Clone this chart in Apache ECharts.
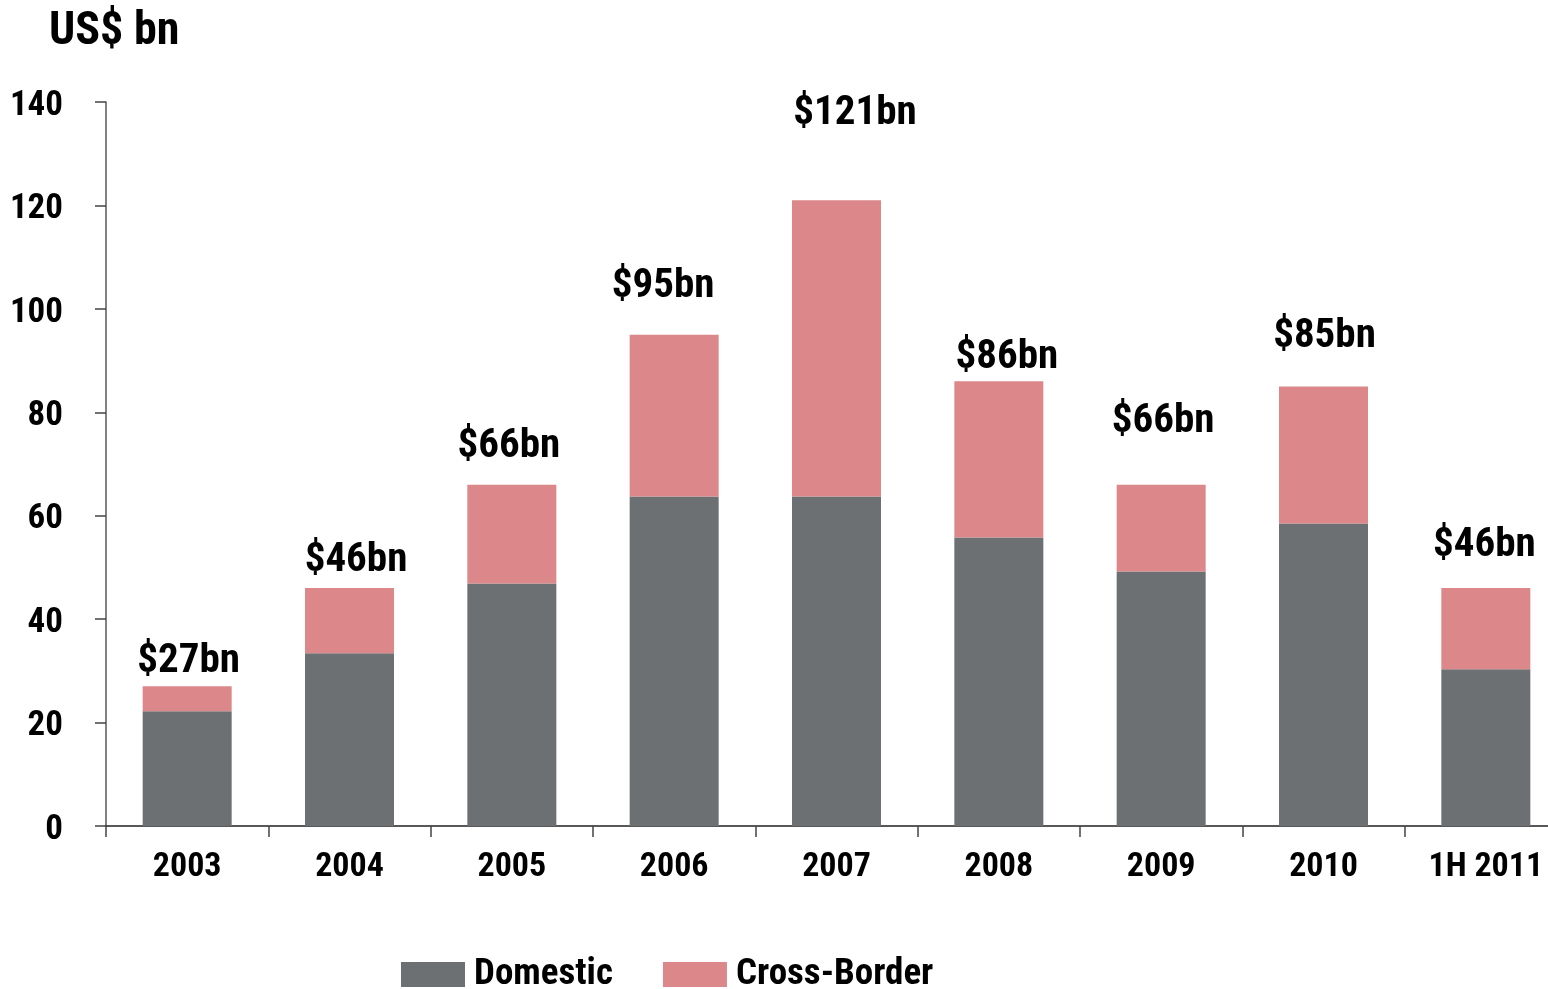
<!DOCTYPE html>
<html>
<head>
<meta charset="utf-8">
<title>US$ bn — Domestic vs Cross-Border</title>
<script src="https://cdn.jsdelivr.net/npm/echarts@6/dist/echarts.min.js"></script>
<style>
  html, body { margin: 0; padding: 0; background: #ffffff; }
  #chart { width: 1548px; height: 989px; }
</style>
</head>
<body>
<div id="chart"></div>
<script>
// Deal volume by year, US$ bn
const categories = ['2003', '2004', '2005', '2006', '2007', '2008', '2009', '2010', '1H 2011'];
const totals = [27, 46, 66, 95, 121, 86, 66, 85, 46];
const domestic = [22.2, 33.4, 46.9, 63.7, 63.7, 55.8, 49.2, 58.5, 30.3];
// Cross-border is the remainder of each stated total
const crossBorder = totals.map((t, i) => +(t - domestic[i]).toFixed(1));
const yTicks = [0, 20, 40, 60, 80, 100, 120, 140];

// Hand placement of each total label above its bar (pixels, [dx, dy])
const labelNudge = [[1.5, -4], [6.5, -7], [-3, -17], [-11, -27], [18.5, -66], [8, -3], [2, -42], [1, -29], [-1.5, -22]];

const FONT = '"Roboto Condensed", "Liberation Sans Narrow", Roboto, sans-serif';
const GRAY = '#6d7073';
const PINK = '#dc8789';

const chart = echarts.init(document.getElementById('chart'));
chart.setOption({
  backgroundColor: '#ffffff',
  animation: false,
  textStyle: { fontFamily: FONT, fontWeight: 'bold', color: '#000' },
  title: {
    text: 'US$ bn',
    left: 44,
    top: 4,
    textStyle: { fontFamily: FONT, fontWeight: 'bold', fontSize: 46, color: '#000' }
  },
  legend: {
    data: ['Domestic', 'Cross-Border'],
    left: 401,
    top: 956,
    padding: 0,
    icon: 'rect',
    itemWidth: 64,
    itemHeight: 25,
    itemGap: 50,
    textStyle: { fontFamily: FONT, fontWeight: 'bold', fontSize: 37, lineHeight: 25, color: '#000', padding: [0, 0, 0, 4] }
  },
  grid: { left: 106, right: -19, top: 102, bottom: 163, containLabel: false, outerBoundsMode: 'none' },
  xAxis: {
    type: 'category',
    data: categories,
    boundaryGap: true,
    axisLine: { show: true, lineStyle: { color: '#222', width: 1.5 } },
    axisTick: { show: true, interval: 0, length: 11, lineStyle: { color: '#444', width: 1.5 } },
    axisLabel: { interval: 0, margin: 24, fontFamily: FONT, fontWeight: 'bold', fontSize: 34, color: '#000' }
  },
  yAxis: {
    type: 'value',
    min: yTicks[0],
    max: yTicks[yTicks.length - 1],
    interval: 20,
    splitLine: { show: false },
    axisLine: { show: true, lineStyle: { color: '#595959', width: 1.5 } },
    axisTick: { show: true, length: 11, lineStyle: { color: '#444', width: 1.5 } },
    axisLabel: {
      margin: 43,
      formatter: v => '{t|' + v + '}',
      rich: {
        t: { padding: [8, 0, 0, 0], fontFamily: FONT, fontWeight: 'bold', fontSize: 35, color: '#000' }
      }
    }
  },
  series: [
    {
      name: 'Domestic',
      type: 'bar',
      stack: 'total',
      barWidth: 89,
      data: domestic,
      itemStyle: { color: GRAY }
    },
    {
      name: 'Cross-Border',
      type: 'bar',
      stack: 'total',
      barWidth: 89,
      data: crossBorder.map((v, i) => ({
        value: v,
        label: { offset: labelNudge[i] }
      })),
      itemStyle: { color: PINK },
      label: {
        show: true,
        position: 'top',
        distance: 0,
        formatter: p => '$' + totals[p.dataIndex] + 'bn',
        fontFamily: FONT,
        fontWeight: 'bold',
        fontSize: 41,
        color: '#000'
      }
    }
  ]
});
</script>
</body>
</html>
